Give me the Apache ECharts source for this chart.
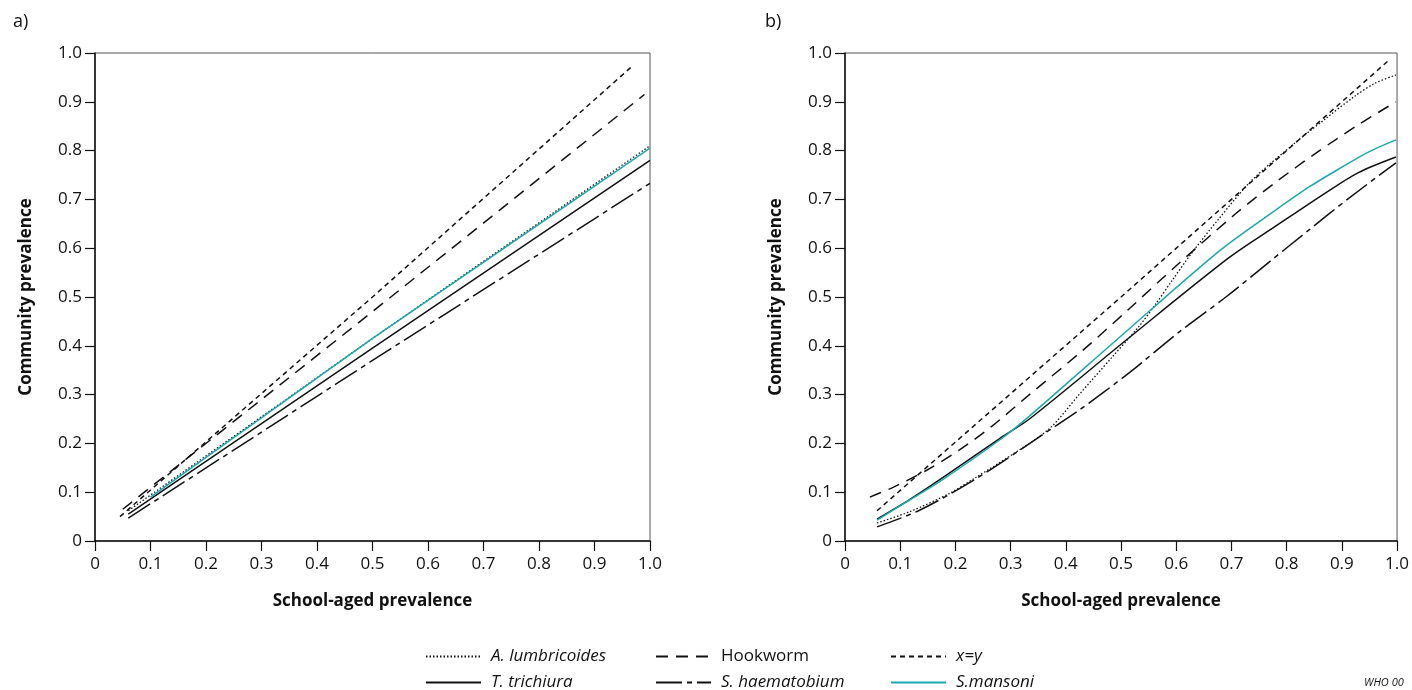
<!DOCTYPE html>
<html>
<head>
<meta charset="utf-8">
<script src="https://cdn.jsdelivr.net/npm/echarts@6/dist/echarts.min.js"></script>
<style>
  html, body { margin: 0; padding: 0; background: #fff; }
  #chart { width: 1412px; height: 690px; }
</style>
</head>
<body>
<div id="chart"></div>
<script>
// series names (legend order)
var names = ['A. lumbricoides', 'Hookworm', 'x=y', 'T. trichiura', 'S. haematobium', 'S.mansoni'];

// tick values for both axes
var ticks = [0, 0.1, 0.2, 0.3, 0.4, 0.5, 0.6, 0.7, 0.8, 0.9, 1.0];

// panel a) [school-aged, community]
var aLumbA = [[0.06, 0.062], [0.5, 0.415], [1.0, 0.81]];
var hookA  = [[0.05, 0.065], [0.5, 0.47], [0.99, 0.915]];
var xyA    = [[0.045, 0.05], [0.5, 0.5], [0.97, 0.975]];
var trichA = [[0.06, 0.055], [0.5, 0.395], [1.0, 0.78]];
var haemA  = [[0.06, 0.047], [0.5, 0.37], [1.0, 0.733]];
var mansA  = [[0.1, 0.09], [0.5, 0.415], [1.0, 0.805]];

// panel b)
var aLumbB = [[0.058, 0.037], [0.117, 0.06], [0.19, 0.098], [0.238, 0.131], [0.3, 0.175], [0.37, 0.23],
              [0.424, 0.3], [0.484, 0.377], [0.532, 0.439], [0.563, 0.486], [0.592, 0.533], [0.628, 0.59],
              [0.677, 0.66], [0.736, 0.738], [0.809, 0.81], [0.87, 0.865], [0.924, 0.912], [0.96, 0.938], [0.998, 0.955]];
var hookB  = [[0.045, 0.09], [0.087, 0.11], [0.148, 0.145], [0.208, 0.187], [0.267, 0.236], [0.334, 0.3],
              [0.43, 0.39], [0.514, 0.475], [0.6, 0.564], [0.707, 0.67], [0.78, 0.735], [0.857, 0.798],
              [0.93, 0.853], [0.998, 0.9]];
var xyB    = [[0.058, 0.062], [0.5, 0.5], [0.985, 0.985]];
var trichB = [[0.058, 0.045], [0.117, 0.085], [0.177, 0.13], [0.28, 0.21], [0.334, 0.25], [0.514, 0.416],
              [0.695, 0.58], [0.78, 0.645], [0.87, 0.713], [0.93, 0.755], [0.998, 0.787]];
var haemB  = [[0.058, 0.029], [0.135, 0.063], [0.238, 0.128], [0.37, 0.227], [0.424, 0.268], [0.514, 0.344],
              [0.605, 0.428], [0.69, 0.5], [0.773, 0.576], [0.84, 0.637], [0.91, 0.7], [0.998, 0.775]];
var mansB  = [[0.058, 0.043], [0.117, 0.084], [0.177, 0.126], [0.28, 0.207], [0.334, 0.256], [0.514, 0.434],
              [0.68, 0.596], [0.78, 0.678], [0.84, 0.725], [0.9, 0.766], [0.948, 0.797], [0.998, 0.822]];

var FONT = '"Open Sans", "Noto Sans", sans-serif';
var TEAL = '#1aa8b1';

var styles = {
  'A. lumbricoides': { color: '#111', width: 1.3, type: [1.5, 2] },
  'Hookworm':        { color: '#111', width: 1.5, type: [12, 8] },
  'x=y':             { color: '#111', width: 1.5, type: [5, 4] },
  'T. trichiura':    { color: '#111', width: 1.5, type: 'solid' },
  'S. haematobium':  { color: '#111', width: 1.5, type: [26, 5, 5, 5] },
  'S.mansoni':       { color: TEAL,   width: 1.5, type: 'solid' }
};

function fmtTick(v) {
  return v === 0 ? '0' : v.toFixed(1);
}

function makeX(idx) {
  return {
    gridIndex: idx, type: 'value', min: 0, max: 1, interval: 0.1,
    name: 'School-aged prevalence', nameLocation: 'middle', nameGap: 52,
    nameTextStyle: { fontFamily: FONT, fontSize: 17, fontWeight: 'bold', color: '#111' },
    axisLine: { show: true, onZero: false, lineStyle: { color: '#111', width: 1.5 } },
    axisTick: { show: true, inside: false, length: 10, lineStyle: { color: '#111', width: 1.2 } },
    axisLabel: { margin: 15, fontFamily: FONT, fontSize: 17, color: '#111', formatter: fmtTick },
    splitLine: { show: false }
  };
}

function makeY(idx) {
  return {
    gridIndex: idx, type: 'value', min: 0, max: 1, interval: 0.1,
    name: 'Community prevalence', nameLocation: 'middle', nameGap: 60,
    nameTextStyle: { fontFamily: FONT, fontSize: 17, fontWeight: 'bold', color: '#111' },
    axisLine: { show: true, onZero: false, lineStyle: { color: '#111', width: 1.5 } },
    axisTick: { show: true, inside: false, length: 10, lineStyle: { color: '#111', width: 1.2 } },
    axisLabel: { margin: 13, fontFamily: FONT, fontSize: 17, color: '#111', formatter: fmtTick },
    splitLine: { show: false }
  };
}

// panel b curves are smoothed, straight lines are not
function line(name, data, idx) {
  var s = styles[name];
  var curved = idx === 1 && name !== 'x=y';
  return {
    name: name, type: 'line', xAxisIndex: idx, yAxisIndex: idx,
    data: data, symbol: 'none', smooth: curved ? 0.3 : false,
    lineStyle: { color: s.color, width: s.width, type: s.type },
    itemStyle: { color: s.color },
    silent: true, animation: false
  };
}

// one legend per entry so the columns line up
var legPos = [
  { left: 425, top: 648 }, { left: 655, top: 648 }, { left: 890, top: 648 },
  { left: 425, top: 674 }, { left: 655, top: 674 }, { left: 890, top: 674 }
];
var legends = names.map(function(n, i) {
  return {
    data: [n], left: legPos[i].left, top: legPos[i].top, padding: 0,
    itemWidth: 55, itemHeight: 14, selectedMode: false,
    itemStyle: { opacity: 0 },
    textStyle: { fontFamily: FONT, fontSize: 17, color: '#111',
                 fontStyle: n === 'Hookworm' ? 'normal' : 'italic', padding: [0, 0, 0, 5] }
  };
});

var option = {
  backgroundColor: '#fff',
  animation: false,
  grid: [
    { left: 95, right: 762, top: 53, bottom: 149, show: true, borderColor: '#555', borderWidth: 1 },
    { left: 845, right: 13, top: 53, bottom: 149, show: true, borderColor: '#555', borderWidth: 1 }
  ],
  title: [
    { text: 'a)', left: 8, top: 8, textStyle: { fontFamily: FONT, fontSize: 18, fontWeight: 'normal', color: '#111' } },
    { text: 'b)', left: 760, top: 8, textStyle: { fontFamily: FONT, fontSize: 18, fontWeight: 'normal', color: '#111' } },
    { text: 'WHO 00', left: 1364, top: 677, padding: 0,
      textStyle: { fontFamily: FONT, fontSize: 11, fontStyle: 'italic', fontWeight: 'normal', color: '#111' } }
  ],
  legend: legends,
  xAxis: [makeX(0), makeX(1)],
  yAxis: [makeY(0), makeY(1)],
  series: [
    line('A. lumbricoides', aLumbA, 0),
    line('Hookworm', hookA, 0),
    line('x=y', xyA, 0),
    line('T. trichiura', trichA, 0),
    line('S. haematobium', haemA, 0),
    line('S.mansoni', mansA, 0),
    line('A. lumbricoides', aLumbB, 1),
    line('Hookworm', hookB, 1),
    line('x=y', xyB, 1),
    line('T. trichiura', trichB, 1),
    line('S. haematobium', haemB, 1),
    line('S.mansoni', mansB, 1)
  ]
};

var chart = echarts.init(document.getElementById('chart'));
chart.setOption(option);
</script>
</body>
</html>
